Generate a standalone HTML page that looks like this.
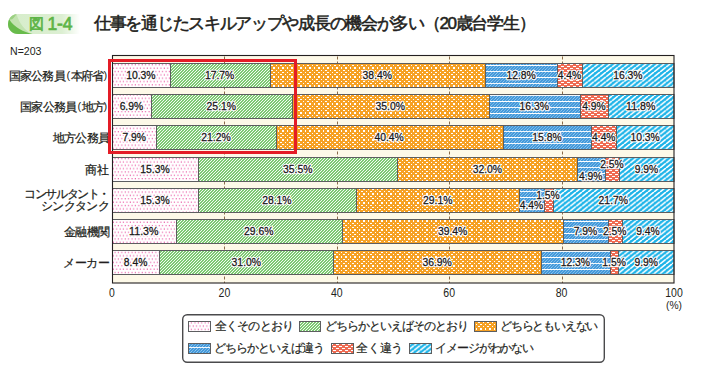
<!DOCTYPE html>
<html><head><meta charset="utf-8"><style>
html,body{margin:0;padding:0;background:#fff;}
body{width:701px;height:376px;position:relative;overflow:hidden;font-family:"Liberation Sans",sans-serif;color:#231f20;}
.abs{position:absolute;white-space:nowrap}
svg{position:absolute;left:0;top:0;}
.c{position:absolute;right:592px;height:15px;line-height:15px;font-size:11.6px;white-space:nowrap;text-align:right;-webkit-text-stroke:0.25px #231f20}
.c .p{font-size:11px;display:inline-block;letter-spacing:0;position:relative;top:-0.5px}
.vt text{font-family:"Liberation Sans",sans-serif;font-size:11.6px;}
.vt .halo text{fill:#fff;stroke:#fff;stroke-width:2.6px;stroke-linejoin:round;}
.vt .ink text{fill:#1a1718;stroke:#1a1718;stroke-width:0.3px;}
.at text{font-family:"Liberation Sans",sans-serif;font-size:12px;fill:#231f20;}
.lg{position:absolute;font-size:12px;line-height:15px;white-space:nowrap;-webkit-text-stroke:0.2px #231f20}
</style></head><body>
<div class="abs" style="left:8px;top:14px;width:72px;height:20px;border-radius:10px 0 0 10px;background:linear-gradient(to right,#d6edca 0%,#dcefd2 75%,#ffffff 100%);"></div>
<svg width="701" height="376">
<path d="M18,14 C12,14 8,18.5 8,24 C8,29.5 12,34 18,34 L32.5,34 C25,31 19,23 16.5,14 Z" fill="#c2e3b0"/>
<path d="M16.5,14 C13,14.5 10.5,16.5 9.2,19.2 C12,20.5 14,18 16.5,14 Z" fill="#9bd082"/>
<path d="M9.2,19.2 C8.4,20.8 8,22.4 8,24 C8,29.5 12,34 18,34 L32.5,34 C24,32 14,27.5 9.2,19.2 Z" fill="#68bb4b"/>
</svg>
<div class="abs" style="left:29px;top:14px;font-size:15px;line-height:20px;color:#5db446;-webkit-text-stroke:0.7px #5db446">図</div>
<div class="abs" style="left:47.5px;top:13px;font-size:17.5px;line-height:22px;color:#5db446;letter-spacing:-0.2px;-webkit-text-stroke:0.7px #5db446">1-4</div>
<div class="abs" style="left:94px;top:13px;font-size:17px;line-height:22px;color:#231f20;letter-spacing:-1.3px;-webkit-text-stroke:0.55px #231f20">仕事を通じたスキルアップや成長の機会が多い（20歳台学生）</div>
<svg width="701" height="376" class="at"><text x="10" y="55" textLength="31.5" lengthAdjust="spacingAndGlyphs" style="font-size:11px">N=203</text></svg>
<div class="abs" style="left:8.6px;top:68.0px;font-size:11.6px;line-height:15px;letter-spacing:-0.75px;-webkit-text-stroke:0.25px #231f20">国家公務員</div><div class="abs" style="left:66.4px;top:67.5px;font-size:11px;line-height:15px">(</div><div class="abs" style="left:70.7px;top:68.0px;font-size:11.6px;line-height:15px;letter-spacing:-1.2px;-webkit-text-stroke:0.25px #231f20">本府省</div><div class="abs" style="left:103.5px;top:67.5px;font-size:11px;line-height:15px">)</div><div class="abs" style="left:20.0px;top:99.0px;font-size:11.6px;line-height:15px;letter-spacing:-0.75px;-webkit-text-stroke:0.25px #231f20">国家公務員</div><div class="abs" style="left:77.6px;top:98.5px;font-size:11px;line-height:15px">(</div><div class="abs" style="left:82.2px;top:99.0px;font-size:11.6px;line-height:15px;letter-spacing:-1.2px;-webkit-text-stroke:0.25px #231f20">地方</div><div class="abs" style="left:103.5px;top:98.5px;font-size:11px;line-height:15px">)</div><div class="c" style="top:130.0px"><span style="letter-spacing:-0.75px">地方公務員</span></div><div class="c" style="top:162.0px">商社</div><div class="c" style="top:188.0px;line-height:11.5px;height:24px"><span style="letter-spacing:-1.4px">コンサルタント・</span><br><span style="letter-spacing:-0.66px">シンクタンク</span></div><div class="c" style="top:224.0px"><span style="letter-spacing:-0.77px">金融機関</span></div><div class="c" style="top:255.0px"><span style="letter-spacing:-0.5px">メーカー</span></div>
<svg width="701" height="376"><defs>
<pattern id="pk" patternUnits="userSpaceOnUse" width="3.4" height="6.7"><rect width="3.4" height="6.7" fill="#fff"/><rect x="0.6" y="0.6" width="1.1" height="1.1" fill="#e8489c"/><rect x="2.3" y="3.95" width="1.1" height="1.1" fill="#e8489c"/></pattern>
<pattern id="gr" patternUnits="userSpaceOnUse" width="3" height="3"><rect width="3" height="3" fill="#4cb53e"/><path d="M-1,1 L1,-1 M0,3 L3,0 M2,4 L4,2" stroke="#fff" stroke-width="1.05"/></pattern>
<pattern id="or" patternUnits="userSpaceOnUse" width="9" height="9"><rect width="9" height="9" fill="#f6a124"/><g fill="#fff"><rect x="1" y="2" width="2" height="1"/><rect x="6" y="2" width="1" height="1"/><rect x="3" y="4" width="2" height="2"/><rect x="8" y="4" width="1" height="2"/><rect x="1" y="7" width="2" height="1"/><rect x="6" y="7" width="1" height="1"/><rect x="3" y="0" width="2" height="1"/><rect x="8" y="0" width="1" height="1"/></g></pattern>
<pattern id="bl" patternUnits="userSpaceOnUse" width="6" height="12"><rect width="6" height="12" fill="#4499da"/><path d="M-1,1 L1,-1 M0,3 L3,0 M3,3 L6,0 M0,6 L6,0 M3,6 L6,3 M0,9 L6,3 M0,12 L6,6 M3,12 L6,9 M0,15 L6,9 M-1,13.4 L1,11.4" stroke="#a3d0f2" stroke-width="0.6"/><rect x="0" y="5" width="6" height="1" fill="#fff"/><rect x="0" y="11" width="6" height="1" fill="#f2f8fd"/></pattern>
<pattern id="sa" patternUnits="userSpaceOnUse" width="6" height="4"><rect width="6" height="4" fill="#ef6b52"/><rect x="0" y="0" width="3" height="1" fill="#fff"/><rect x="3" y="2" width="3" height="1" fill="#fff"/></pattern>
<pattern id="cy" patternUnits="userSpaceOnUse" width="6" height="4.8"><rect width="6" height="4.8" fill="#1cb3e8"/><path d="M-6,4.8 L0,0 M0,4.8 L6,0 M6,4.8 L12,0" stroke="#fff" stroke-width="1.6"/></pattern>
</defs>
<rect x="112" y="55" width="562" height="228" fill="#fdf9e8"/><line x1="224.5" y1="56.5" x2="224.5" y2="283" stroke="#8a6a48" stroke-width="1" stroke-dasharray="3,2"/><line x1="337.5" y1="56.5" x2="337.5" y2="283" stroke="#8a6a48" stroke-width="1" stroke-dasharray="3,2"/><line x1="449.5" y1="56.5" x2="449.5" y2="283" stroke="#8a6a48" stroke-width="1" stroke-dasharray="3,2"/><line x1="562.5" y1="56.5" x2="562.5" y2="283" stroke="#8a6a48" stroke-width="1" stroke-dasharray="3,2"/><rect x="112.50" y="63.5" width="58.00" height="24" fill="url(#pk)" stroke="#5d5e60" stroke-width="1"/><rect x="170.50" y="63.5" width="100.00" height="24" fill="url(#gr)" stroke="#5d5e60" stroke-width="1"/><rect x="270.50" y="63.5" width="215.00" height="24" fill="url(#or)" stroke="#5d5e60" stroke-width="1"/><rect x="485.50" y="63.5" width="72.00" height="24" fill="url(#bl)" stroke="#5d5e60" stroke-width="1"/><rect x="557.50" y="63.5" width="25.00" height="24" fill="url(#sa)" stroke="#5d5e60" stroke-width="1"/><rect x="582.50" y="63.5" width="91.50" height="24" fill="url(#cy)" stroke="#5d5e60" stroke-width="1"/><rect x="112.50" y="94.5" width="39.00" height="24" fill="url(#pk)" stroke="#5d5e60" stroke-width="1"/><rect x="151.50" y="94.5" width="141.00" height="24" fill="url(#gr)" stroke="#5d5e60" stroke-width="1"/><rect x="292.50" y="94.5" width="197.00" height="24" fill="url(#or)" stroke="#5d5e60" stroke-width="1"/><rect x="489.50" y="94.5" width="91.00" height="24" fill="url(#bl)" stroke="#5d5e60" stroke-width="1"/><rect x="580.50" y="94.5" width="28.00" height="24" fill="url(#sa)" stroke="#5d5e60" stroke-width="1"/><rect x="608.50" y="94.5" width="65.50" height="24" fill="url(#cy)" stroke="#5d5e60" stroke-width="1"/><rect x="112.50" y="125.5" width="44.00" height="24" fill="url(#pk)" stroke="#5d5e60" stroke-width="1"/><rect x="156.50" y="125.5" width="120.00" height="24" fill="url(#gr)" stroke="#5d5e60" stroke-width="1"/><rect x="276.50" y="125.5" width="227.00" height="24" fill="url(#or)" stroke="#5d5e60" stroke-width="1"/><rect x="503.50" y="125.5" width="88.00" height="24" fill="url(#bl)" stroke="#5d5e60" stroke-width="1"/><rect x="591.50" y="125.5" width="25.00" height="24" fill="url(#sa)" stroke="#5d5e60" stroke-width="1"/><rect x="616.50" y="125.5" width="57.50" height="24" fill="url(#cy)" stroke="#5d5e60" stroke-width="1"/><rect x="112.50" y="157.5" width="86.00" height="24" fill="url(#pk)" stroke="#5d5e60" stroke-width="1"/><rect x="198.50" y="157.5" width="199.00" height="24" fill="url(#gr)" stroke="#5d5e60" stroke-width="1"/><rect x="397.50" y="157.5" width="180.00" height="24" fill="url(#or)" stroke="#5d5e60" stroke-width="1"/><rect x="577.50" y="157.5" width="28.00" height="24" fill="url(#bl)" stroke="#5d5e60" stroke-width="1"/><rect x="605.50" y="157.5" width="14.00" height="24" fill="url(#sa)" stroke="#5d5e60" stroke-width="1"/><rect x="619.50" y="157.5" width="54.50" height="24" fill="url(#cy)" stroke="#5d5e60" stroke-width="1"/><rect x="112.50" y="188.5" width="86.00" height="24" fill="url(#pk)" stroke="#5d5e60" stroke-width="1"/><rect x="198.50" y="188.5" width="158.00" height="24" fill="url(#gr)" stroke="#5d5e60" stroke-width="1"/><rect x="356.50" y="188.5" width="163.00" height="24" fill="url(#or)" stroke="#5d5e60" stroke-width="1"/><rect x="519.50" y="188.5" width="25.00" height="24" fill="url(#bl)" stroke="#5d5e60" stroke-width="1"/><rect x="544.50" y="188.5" width="9.00" height="24" fill="url(#sa)" stroke="#5d5e60" stroke-width="1"/><rect x="553.50" y="188.5" width="120.50" height="24" fill="url(#cy)" stroke="#5d5e60" stroke-width="1"/><rect x="112.50" y="219.5" width="64.00" height="24" fill="url(#pk)" stroke="#5d5e60" stroke-width="1"/><rect x="176.50" y="219.5" width="166.00" height="24" fill="url(#gr)" stroke="#5d5e60" stroke-width="1"/><rect x="342.50" y="219.5" width="221.00" height="24" fill="url(#or)" stroke="#5d5e60" stroke-width="1"/><rect x="563.50" y="219.5" width="45.00" height="24" fill="url(#bl)" stroke="#5d5e60" stroke-width="1"/><rect x="608.50" y="219.5" width="14.00" height="24" fill="url(#sa)" stroke="#5d5e60" stroke-width="1"/><rect x="622.50" y="219.5" width="51.50" height="24" fill="url(#cy)" stroke="#5d5e60" stroke-width="1"/><rect x="112.50" y="250.5" width="47.00" height="24" fill="url(#pk)" stroke="#5d5e60" stroke-width="1"/><rect x="159.50" y="250.5" width="174.00" height="24" fill="url(#gr)" stroke="#5d5e60" stroke-width="1"/><rect x="333.50" y="250.5" width="208.00" height="24" fill="url(#or)" stroke="#5d5e60" stroke-width="1"/><rect x="541.50" y="250.5" width="69.00" height="24" fill="url(#bl)" stroke="#5d5e60" stroke-width="1"/><rect x="610.50" y="250.5" width="8.00" height="24" fill="url(#sa)" stroke="#5d5e60" stroke-width="1"/><rect x="618.50" y="250.5" width="55.50" height="24" fill="url(#cy)" stroke="#5d5e60" stroke-width="1"/><rect x="112.5" y="55.5" width="561.5" height="227.5" fill="none" stroke="#231f20" stroke-width="1.1"/><rect x="109.5" y="60.5" width="186" height="92" fill="none" stroke="#e41c26" stroke-width="3"/>
</svg>
<svg width="701" height="376" class="vt"><g class="halo"><text x="140.9" y="79.0" text-anchor="middle" textLength="29.4" lengthAdjust="spacingAndGlyphs">10.3%</text><text x="219.6" y="79.0" text-anchor="middle" textLength="29.4" lengthAdjust="spacingAndGlyphs">17.7%</text><text x="377.3" y="79.0" text-anchor="middle" textLength="29.4" lengthAdjust="spacingAndGlyphs">38.4%</text><text x="521.1" y="79.0" text-anchor="middle" textLength="29.4" lengthAdjust="spacingAndGlyphs">12.8%</text><text x="569.5" y="79.0" text-anchor="middle" textLength="23.5" lengthAdjust="spacingAndGlyphs">4.4%</text><text x="627.9" y="79.0" text-anchor="middle" textLength="29.4" lengthAdjust="spacingAndGlyphs">16.3%</text><text x="131.4" y="110.0" text-anchor="middle" textLength="23.5" lengthAdjust="spacingAndGlyphs">6.9%</text><text x="221.3" y="110.0" text-anchor="middle" textLength="29.4" lengthAdjust="spacingAndGlyphs">25.1%</text><text x="390.2" y="110.0" text-anchor="middle" textLength="29.4" lengthAdjust="spacingAndGlyphs">35.0%</text><text x="534.3" y="110.0" text-anchor="middle" textLength="29.4" lengthAdjust="spacingAndGlyphs">16.3%</text><text x="593.9" y="110.0" text-anchor="middle" textLength="23.5" lengthAdjust="spacingAndGlyphs">4.9%</text><text x="640.8" y="110.0" text-anchor="middle" textLength="29.4" lengthAdjust="spacingAndGlyphs">11.8%</text><text x="134.2" y="141.0" text-anchor="middle" textLength="23.5" lengthAdjust="spacingAndGlyphs">7.9%</text><text x="216.0" y="141.0" text-anchor="middle" textLength="29.4" lengthAdjust="spacingAndGlyphs">21.2%</text><text x="389.1" y="141.0" text-anchor="middle" textLength="29.4" lengthAdjust="spacingAndGlyphs">40.4%</text><text x="547.0" y="141.0" text-anchor="middle" textLength="29.4" lengthAdjust="spacingAndGlyphs">15.8%</text><text x="603.8" y="141.0" text-anchor="middle" textLength="23.5" lengthAdjust="spacingAndGlyphs">4.4%</text><text x="645.1" y="141.0" text-anchor="middle" textLength="29.4" lengthAdjust="spacingAndGlyphs">10.3%</text><text x="155.0" y="173.0" text-anchor="middle" textLength="29.4" lengthAdjust="spacingAndGlyphs">15.3%</text><text x="297.7" y="173.0" text-anchor="middle" textLength="29.4" lengthAdjust="spacingAndGlyphs">35.5%</text><text x="487.4" y="173.0" text-anchor="middle" textLength="29.4" lengthAdjust="spacingAndGlyphs">32.0%</text><text x="590.7" y="179.5" text-anchor="middle" textLength="23.5" lengthAdjust="spacingAndGlyphs">4.9%</text><text x="612.0" y="167.5" text-anchor="middle" textLength="23.5" lengthAdjust="spacingAndGlyphs">2.5%</text><text x="646.5" y="173.0" text-anchor="middle" textLength="23.5" lengthAdjust="spacingAndGlyphs">9.9%</text><text x="155.0" y="204.0" text-anchor="middle" textLength="29.4" lengthAdjust="spacingAndGlyphs">15.3%</text><text x="276.9" y="204.0" text-anchor="middle" textLength="29.4" lengthAdjust="spacingAndGlyphs">28.1%</text><text x="437.7" y="204.0" text-anchor="middle" textLength="29.4" lengthAdjust="spacingAndGlyphs">29.1%</text><text x="531.5" y="209.0" text-anchor="middle" textLength="23.5" lengthAdjust="spacingAndGlyphs">4.4%</text><text x="548.0" y="198.5" text-anchor="middle" textLength="23.5" lengthAdjust="spacingAndGlyphs">1.5%</text><text x="613.3" y="204.0" text-anchor="middle" textLength="29.4" lengthAdjust="spacingAndGlyphs">21.7%</text><text x="143.8" y="235.0" text-anchor="middle" textLength="29.4" lengthAdjust="spacingAndGlyphs">11.3%</text><text x="258.7" y="235.0" text-anchor="middle" textLength="29.4" lengthAdjust="spacingAndGlyphs">29.6%</text><text x="452.6" y="235.0" text-anchor="middle" textLength="29.4" lengthAdjust="spacingAndGlyphs">39.4%</text><text x="585.5" y="235.0" text-anchor="middle" textLength="23.5" lengthAdjust="spacingAndGlyphs">7.9%</text><text x="614.7" y="235.0" text-anchor="middle" textLength="23.5" lengthAdjust="spacingAndGlyphs">2.5%</text><text x="647.9" y="235.0" text-anchor="middle" textLength="23.5" lengthAdjust="spacingAndGlyphs">9.4%</text><text x="135.6" y="266.0" text-anchor="middle" textLength="23.5" lengthAdjust="spacingAndGlyphs">8.4%</text><text x="246.3" y="266.0" text-anchor="middle" textLength="29.4" lengthAdjust="spacingAndGlyphs">31.0%</text><text x="437.1" y="266.0" text-anchor="middle" textLength="29.4" lengthAdjust="spacingAndGlyphs">36.9%</text><text x="575.4" y="266.0" text-anchor="middle" textLength="29.4" lengthAdjust="spacingAndGlyphs">12.3%</text><text x="614.1" y="266.0" text-anchor="middle" textLength="23.5" lengthAdjust="spacingAndGlyphs">1.5%</text><text x="646.2" y="266.0" text-anchor="middle" textLength="23.5" lengthAdjust="spacingAndGlyphs">9.9%</text></g><g class="ink"><text x="140.9" y="79.0" text-anchor="middle" textLength="29.4" lengthAdjust="spacingAndGlyphs">10.3%</text><text x="219.6" y="79.0" text-anchor="middle" textLength="29.4" lengthAdjust="spacingAndGlyphs">17.7%</text><text x="377.3" y="79.0" text-anchor="middle" textLength="29.4" lengthAdjust="spacingAndGlyphs">38.4%</text><text x="521.1" y="79.0" text-anchor="middle" textLength="29.4" lengthAdjust="spacingAndGlyphs">12.8%</text><text x="569.5" y="79.0" text-anchor="middle" textLength="23.5" lengthAdjust="spacingAndGlyphs">4.4%</text><text x="627.9" y="79.0" text-anchor="middle" textLength="29.4" lengthAdjust="spacingAndGlyphs">16.3%</text><text x="131.4" y="110.0" text-anchor="middle" textLength="23.5" lengthAdjust="spacingAndGlyphs">6.9%</text><text x="221.3" y="110.0" text-anchor="middle" textLength="29.4" lengthAdjust="spacingAndGlyphs">25.1%</text><text x="390.2" y="110.0" text-anchor="middle" textLength="29.4" lengthAdjust="spacingAndGlyphs">35.0%</text><text x="534.3" y="110.0" text-anchor="middle" textLength="29.4" lengthAdjust="spacingAndGlyphs">16.3%</text><text x="593.9" y="110.0" text-anchor="middle" textLength="23.5" lengthAdjust="spacingAndGlyphs">4.9%</text><text x="640.8" y="110.0" text-anchor="middle" textLength="29.4" lengthAdjust="spacingAndGlyphs">11.8%</text><text x="134.2" y="141.0" text-anchor="middle" textLength="23.5" lengthAdjust="spacingAndGlyphs">7.9%</text><text x="216.0" y="141.0" text-anchor="middle" textLength="29.4" lengthAdjust="spacingAndGlyphs">21.2%</text><text x="389.1" y="141.0" text-anchor="middle" textLength="29.4" lengthAdjust="spacingAndGlyphs">40.4%</text><text x="547.0" y="141.0" text-anchor="middle" textLength="29.4" lengthAdjust="spacingAndGlyphs">15.8%</text><text x="603.8" y="141.0" text-anchor="middle" textLength="23.5" lengthAdjust="spacingAndGlyphs">4.4%</text><text x="645.1" y="141.0" text-anchor="middle" textLength="29.4" lengthAdjust="spacingAndGlyphs">10.3%</text><text x="155.0" y="173.0" text-anchor="middle" textLength="29.4" lengthAdjust="spacingAndGlyphs">15.3%</text><text x="297.7" y="173.0" text-anchor="middle" textLength="29.4" lengthAdjust="spacingAndGlyphs">35.5%</text><text x="487.4" y="173.0" text-anchor="middle" textLength="29.4" lengthAdjust="spacingAndGlyphs">32.0%</text><text x="590.7" y="179.5" text-anchor="middle" textLength="23.5" lengthAdjust="spacingAndGlyphs">4.9%</text><text x="612.0" y="167.5" text-anchor="middle" textLength="23.5" lengthAdjust="spacingAndGlyphs">2.5%</text><text x="646.5" y="173.0" text-anchor="middle" textLength="23.5" lengthAdjust="spacingAndGlyphs">9.9%</text><text x="155.0" y="204.0" text-anchor="middle" textLength="29.4" lengthAdjust="spacingAndGlyphs">15.3%</text><text x="276.9" y="204.0" text-anchor="middle" textLength="29.4" lengthAdjust="spacingAndGlyphs">28.1%</text><text x="437.7" y="204.0" text-anchor="middle" textLength="29.4" lengthAdjust="spacingAndGlyphs">29.1%</text><text x="531.5" y="209.0" text-anchor="middle" textLength="23.5" lengthAdjust="spacingAndGlyphs">4.4%</text><text x="548.0" y="198.5" text-anchor="middle" textLength="23.5" lengthAdjust="spacingAndGlyphs">1.5%</text><text x="613.3" y="204.0" text-anchor="middle" textLength="29.4" lengthAdjust="spacingAndGlyphs">21.7%</text><text x="143.8" y="235.0" text-anchor="middle" textLength="29.4" lengthAdjust="spacingAndGlyphs">11.3%</text><text x="258.7" y="235.0" text-anchor="middle" textLength="29.4" lengthAdjust="spacingAndGlyphs">29.6%</text><text x="452.6" y="235.0" text-anchor="middle" textLength="29.4" lengthAdjust="spacingAndGlyphs">39.4%</text><text x="585.5" y="235.0" text-anchor="middle" textLength="23.5" lengthAdjust="spacingAndGlyphs">7.9%</text><text x="614.7" y="235.0" text-anchor="middle" textLength="23.5" lengthAdjust="spacingAndGlyphs">2.5%</text><text x="647.9" y="235.0" text-anchor="middle" textLength="23.5" lengthAdjust="spacingAndGlyphs">9.4%</text><text x="135.6" y="266.0" text-anchor="middle" textLength="23.5" lengthAdjust="spacingAndGlyphs">8.4%</text><text x="246.3" y="266.0" text-anchor="middle" textLength="29.4" lengthAdjust="spacingAndGlyphs">31.0%</text><text x="437.1" y="266.0" text-anchor="middle" textLength="29.4" lengthAdjust="spacingAndGlyphs">36.9%</text><text x="575.4" y="266.0" text-anchor="middle" textLength="29.4" lengthAdjust="spacingAndGlyphs">12.3%</text><text x="614.1" y="266.0" text-anchor="middle" textLength="23.5" lengthAdjust="spacingAndGlyphs">1.5%</text><text x="646.2" y="266.0" text-anchor="middle" textLength="23.5" lengthAdjust="spacingAndGlyphs">9.9%</text></g></svg>
<svg width="701" height="376" class="at"><text x="112.0" y="297.2" text-anchor="middle" textLength="5.8" lengthAdjust="spacingAndGlyphs">0</text><text x="224.4" y="297.2" text-anchor="middle" textLength="11.7" lengthAdjust="spacingAndGlyphs">20</text><text x="336.8" y="297.2" text-anchor="middle" textLength="11.7" lengthAdjust="spacingAndGlyphs">40</text><text x="449.2" y="297.2" text-anchor="middle" textLength="11.7" lengthAdjust="spacingAndGlyphs">60</text><text x="561.6" y="297.2" text-anchor="middle" textLength="11.7" lengthAdjust="spacingAndGlyphs">80</text><text x="674.0" y="297.2" text-anchor="middle" textLength="17.5" lengthAdjust="spacingAndGlyphs">100</text>
<text x="674" y="309" text-anchor="middle" textLength="16" lengthAdjust="spacingAndGlyphs" style="font-size:11.5px">(%)</text></svg>
<svg width="701" height="376">
<rect x="182.7" y="314.7" width="421.6" height="47.6" rx="4.5" fill="none" stroke="#4a4a4c" stroke-width="1.4"/>
<rect x="188.5" y="321.5" width="22" height="10" fill="url(#pk)" stroke="#5d5e60"/>
<rect x="299.5" y="321.5" width="21" height="10" fill="url(#gr)" stroke="#5d5e60"/>
<rect x="474.5" y="321.5" width="22" height="10" fill="url(#or)" stroke="#5d5e60"/>
<rect x="188.5" y="343.5" width="22" height="10" fill="url(#bl)" stroke="#5d5e60"/>
<rect x="331.5" y="343.5" width="22" height="10" fill="url(#sa)" stroke="#5d5e60"/>
<rect x="409.5" y="343.5" width="22" height="10" fill="url(#cy)" stroke="#5d5e60"/>
</svg>
<div class="lg" style="left:214.5px;top:319px;letter-spacing:-0.75px">全くそのとおり</div>
<div class="lg" style="left:324.5px;top:319px;letter-spacing:-0.98px">どちらかといえばそのとおり</div>
<div class="lg" style="left:500px;top:319px;letter-spacing:-1.2px">どちらともいえない</div>
<div class="lg" style="left:213.5px;top:341px;letter-spacing:-0.92px">どちらかといえば違う</div>
<div class="lg" style="left:356px;top:341px;letter-spacing:-0.2px">全く違う</div>
<div class="lg" style="left:435px;top:341px;letter-spacing:-1.1px">イメージがわかない</div>
</body></html>
